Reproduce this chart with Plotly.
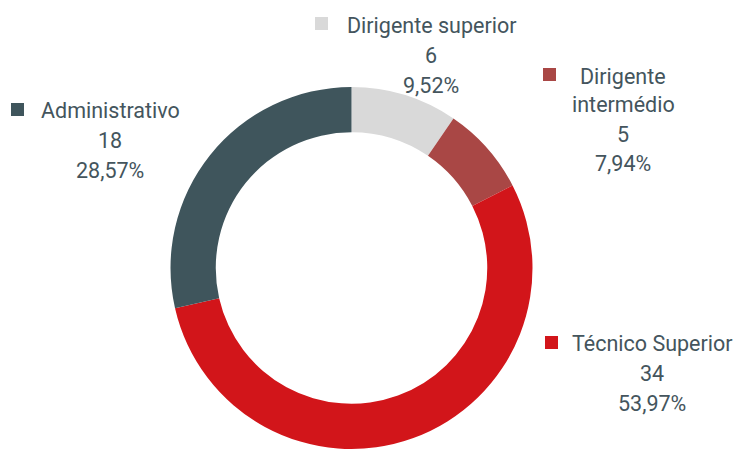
import plotly.graph_objects as go

categories = ["Dirigente superior", "Dirigente intermédio", "Técnico Superior", "Administrativo"]
values = [6, 5, 34, 18]
colors = ["#d9d9d9", "#a94745", "#d2151a", "#3f555c"]

# label layout: (label lines, text center x px, first line y px, line spacing px, square x px, square y px)
label_layout = {
    "Dirigente superior": (["Dirigente superior"], 431, 25, 30, 315, 17),
    "Dirigente intermédio": (["Dirigente", "intermédio"], 623, 76, 29, 543, 68),
    "Técnico Superior": (["Técnico Superior"], 652, 343, 30, 545, 336),
    "Administrativo": (["Administrativo"], 110, 110, 30, 11, 103),
}

W, H = 736, 452
TEXT_COLOR = "#44555d"
FONT = "Roboto"

fig = go.Figure(go.Pie(
    labels=categories, values=values, sort=False, direction="clockwise", rotation=0,
    hole=0.75, marker=dict(colors=colors, line=dict(width=0)),
    textinfo="none", hoverinfo="label+value+percent", showlegend=False,
    domain=dict(x=[(351.5 - 181) / W, (351.5 + 181) / W], y=[(184 - 181) / H, (184 + 181) / H]),
))

total = sum(values)
annotations = []
shapes = []
for cat, val, col in zip(categories, values, colors):
    lines, cx, y0, dy, sx, sy = label_layout[cat]
    pct = f"{val / total * 100:.2f}".replace(".", ",") + "%"
    all_lines = lines + [str(val), pct]
    for i, t in enumerate(all_lines):
        y = y0 + i * dy
        annotations.append(dict(
            x=cx / W, y=1 - y / H, xref="paper", yref="paper", text=t, showarrow=False,
            xanchor="center", yanchor="middle", font=dict(family=FONT, size=21.5, color=TEXT_COLOR),
        ))
    shapes.append(dict(
        type="rect", xref="paper", yref="paper", x0=sx / W, x1=(sx + 13) / W,
        y0=1 - (sy + 13) / H, y1=1 - sy / H, fillcolor=col, line=dict(width=0),
    ))

fig.update_layout(
    width=W, height=H, margin=dict(l=0, r=0, t=0, b=0),
    paper_bgcolor="white", plot_bgcolor="white",
    annotations=annotations, shapes=shapes,
)
fig.write_html("out.html", config={"displayModeBar": False},
               post_script="document.body.style.margin='0';")
